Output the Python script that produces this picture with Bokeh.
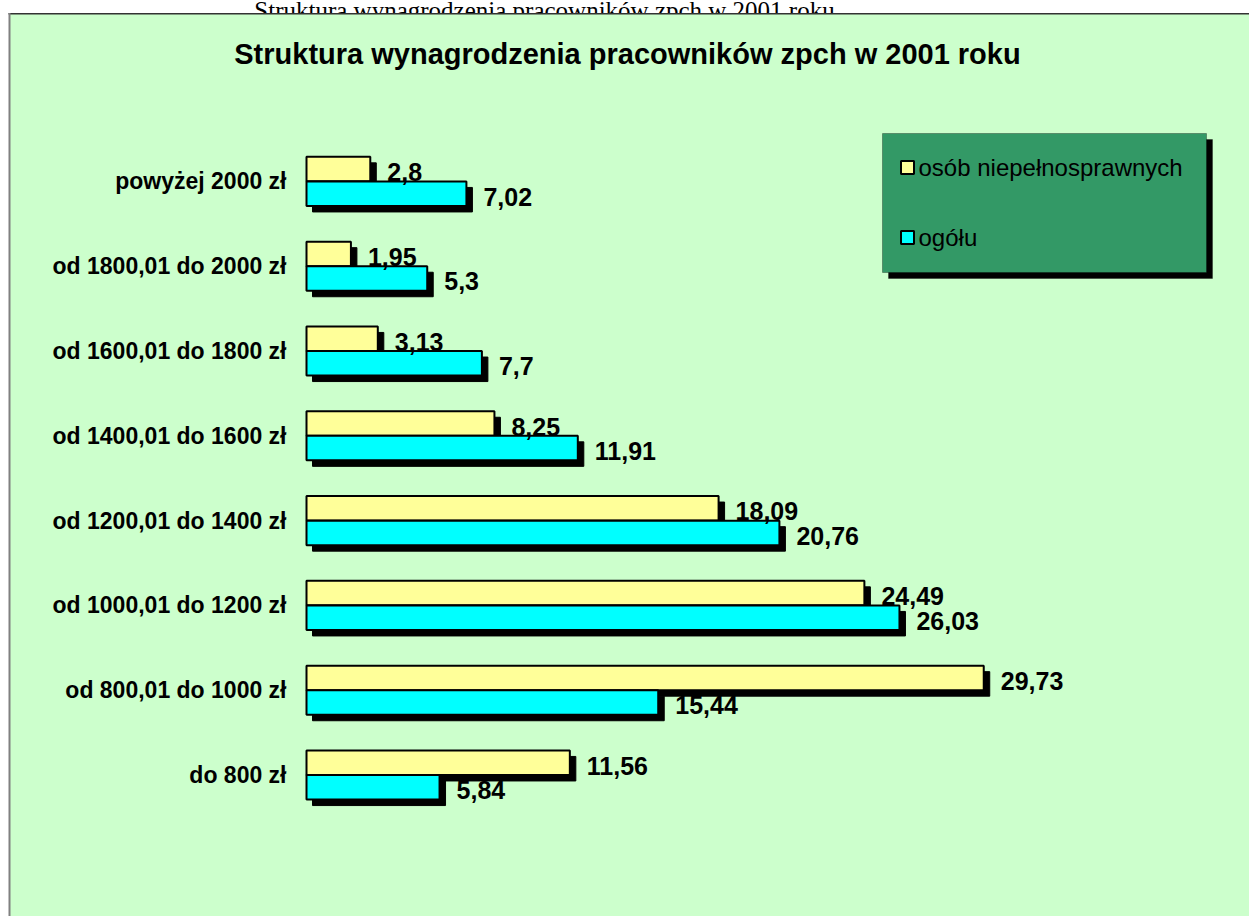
from bokeh.plotting import figure
from bokeh.models import ColumnDataSource, Range1d, Label, BoxAnnotation
from bokeh.core.properties import value
from bokeh.embed import file_html
from bokeh.resources import INLINE

# ---- data ----
categories = ["powyżej 2000 zł", "od 1800,01 do 2000 zł", "od 1600,01 do 1800 zł",
              "od 1400,01 do 1600 zł", "od 1200,01 do 1400 zł", "od 1000,01 do 1200 zł",
              "od 800,01 do 1000 zł", "do 800 zł"]
niepelnosprawni = [2.8, 1.95, 3.13, 8.25, 18.09, 24.49, 29.73, 11.56]
ogolu = [7.02, 5.3, 7.7, 11.91, 20.76, 26.03, 15.44, 5.84]
series_names = ["osób niepełnosprawnych", "ogółu"]
series_colors = ["#FFFF99", "#00FFFF"]
chart_title = "Struktura wynagrodzenia pracowników zpch w 2001  roku"
page_title = "Struktura wynagrodzenia pracowników zpch w 2001 roku"

# ---- geometry (canvas pixels -> data units) ----
W, H = 1249, 916
PXX = 22.78      # px per unit on x
PXY = 84.8       # px per group on y
X0 = 306.0       # canvas x of value 0
Y0 = 774.5       # canvas y of group index 0
def px_x(px):
    return (px - X0) / PXX
def px_y(py):
    return (Y0 - py) / PXY

n = len(categories)
ypos = [n - 1 - i for i in range(n)]
half = 0.145
bh = 0.289
dx = 6 / PXX
dy = 6 / PXY

def fmt(v):
    return str(v).replace(".", ",")

src = ColumnDataSource(dict(
    y=ypos, cat=categories,
    a=niepelnosprawni, b=ogolu,
    ya=[y + half for y in ypos], yb=[y - half for y in ypos],
    ya_s=[y + half - dy for y in ypos], yb_s=[y - half - dy for y in ypos],
    a_s=[v + dx for v in niepelnosprawni], b_s=[v + dx for v in ogolu],
    la=[fmt(v) for v in niepelnosprawni], lb=[fmt(v) for v in ogolu],
    lxa=[v + 17 / PXX for v in niepelnosprawni], lxb=[v + 17 / PXX for v in ogolu],
    lya=[y + half - 3 / PXY for y in ypos], lyb=[y - half - 3 / PXY for y in ypos],
))

p = figure(width=W, height=H, output_backend="svg", toolbar_location=None,
           x_range=Range1d(px_x(0), px_x(W)), y_range=Range1d(px_y(H), px_y(0)),
           x_axis_type=None, y_axis_type=None,
           min_border_left=0, min_border_top=0, min_border_right=0, min_border_bottom=0)
p.background_fill_color = "white"
p.border_fill_color = "white"
p.outline_line_color = None
p.xgrid.visible = False
p.ygrid.visible = False

font = value("Liberation Sans")

# page title above the chart box (cut off by the window top and covered by the box, as in the original)
pt = ColumnDataSource(dict(x=[px_x(544)], y=[px_y(10)], t=[page_title]))
p.text(x="x", y="y", text="t", source=pt, text_font=value("Liberation Serif"),
       text_font_size="25px", text_align="center", text_baseline="alphabetic",
       text_color="black", level="image")

# green chart box (drawn over the page title)
p.add_layout(BoxAnnotation(left=px_x(9), right=px_x(W + 5), top=px_y(13), bottom=px_y(H + 5),
                           fill_color="#CCFFCC", fill_alpha=1, line_color=None, level="underlay"))
# chart box edges (top and left; the box runs past the right and bottom)
p.add_layout(BoxAnnotation(left=px_x(8), right=px_x(W + 5), top=px_y(12.5), bottom=px_y(14),
                           fill_color="#333333", fill_alpha=1, line_color=None, level="underlay"))
p.add_layout(BoxAnnotation(left=px_x(8), right=px_x(10), top=px_y(12.5), bottom=px_y(H + 5),
                           fill_color="#808080", fill_alpha=1, line_color=None, level="underlay"))

# legend box with shadow
p.add_layout(BoxAnnotation(left=px_x(888), right=px_x(1212), top=px_y(139), bottom=px_y(278),
                           fill_color="black", fill_alpha=1, line_color="black", level="underlay"))
p.add_layout(BoxAnnotation(left=px_x(882), right=px_x(1206), top=px_y(133), bottom=px_y(272),
                           fill_color="#339966", fill_alpha=1, line_color="black", line_width=1,
                           level="underlay"))

# shadows + bars
p.hbar(y="ya_s", left=dx, right="a_s", height=bh, source=src, fill_color="black", line_color="black")
p.hbar(y="ya", left=0, right="a", height=bh, source=src, fill_color=series_colors[0],
       line_color="black", line_width=2)
p.hbar(y="yb_s", left=dx, right="b_s", height=bh, source=src, fill_color="black", line_color="black")
p.hbar(y="yb", left=0, right="b", height=bh, source=src, fill_color=series_colors[1],
       line_color="black", line_width=2)

# value labels
p.text(x="lxa", y="lya", text="la", source=src, text_font=font, text_font_size="25px",
       text_font_style="bold", text_baseline="middle", text_align="left", text_color="black")
p.text(x="lxb", y="lyb", text="lb", source=src, text_font=font, text_font_size="25px",
       text_font_style="bold", text_baseline="middle", text_align="left", text_color="black")

# category labels
p.text(x=px_x(286), y="y", text="cat", source=src, text_font=font, text_font_size="23px",
       text_font_style="bold", text_baseline="middle", text_align="right", text_color="black")

# chart title
p.add_layout(Label(x=px_x(631), y=px_y(53), text=chart_title, text_font="Liberation Sans",
                   text_font_size="29px", text_font_style="bold", text_align="center",
                   text_baseline="middle", text_color="black"))

# legend entries
leg = ColumnDataSource(dict(name=series_names, color=series_colors,
                            mx=[px_x(907)] * 2, ty=[px_y(167), px_y(237)], tx=[px_x(918)] * 2))
p.scatter(x="mx", y="ty", marker="square", size=13, source=leg, fill_color="color",
          line_color="black", line_width=2)
p.text(x="tx", y="ty", text="name", source=leg, text_font=font, text_font_size="24px",
       text_baseline="middle", text_align="left", text_color="black")

open("out.html", "w").write(file_html(p, INLINE))
